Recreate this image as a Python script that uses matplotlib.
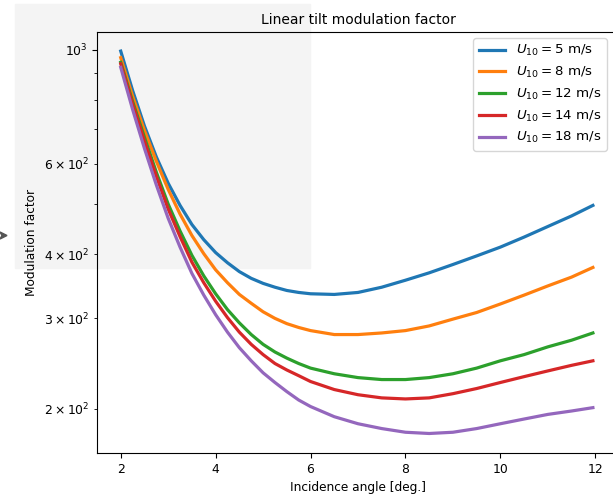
import matplotlib
matplotlib.use("Agg")
import matplotlib.pyplot as plt
from matplotlib.patches import Rectangle, Polygon

# incidence angle [deg.]
theta = [2.0, 2.25, 2.5, 2.75, 3.0, 3.25, 3.5, 3.75, 4.0, 4.25, 4.5, 4.75,
         5.0, 5.25, 5.5, 5.75, 6.0, 6.5, 7.0, 7.5, 8.0, 8.5, 9.0, 9.5,
         10.0, 10.5, 11.0, 11.5, 11.95]

# modulation factor for each wind speed
mod_5 = [995, 834, 711, 619, 550, 498, 457, 427, 403, 385, 370, 359,
         351, 345, 340, 337, 335, 334, 337, 345, 356, 368, 382, 397,
         413, 432, 453, 475, 498]
mod_8 = [966, 813, 697, 607, 535, 479, 435, 401, 373, 352, 334, 321,
         309, 300, 293, 288, 284, 279, 279, 281, 284, 290, 299, 308,
         320, 333, 347, 361, 377]
mod_12 = [946, 794, 676, 578, 501, 444, 398, 363, 335, 312, 294, 279,
          267, 258, 251, 245, 240, 234, 230, 228, 228, 230, 234, 240,
          248, 255, 264, 272, 281]
mod_14 = [940, 785, 665, 568, 490, 433, 386, 352, 324, 301, 282, 267,
          255, 245, 238, 232, 226, 218, 213, 210, 209, 210, 214, 219,
          225, 231, 237, 243, 248]
mod_18 = [925, 766, 643, 546, 470, 413, 367, 333, 305, 282, 263, 248,
          235, 225, 216, 208, 202, 193, 187, 183, 180, 179, 180, 183,
          187, 191, 195, 198, 201]

winds = [5, 8, 12, 14, 18]
series = [mod_5, mod_8, mod_12, mod_14, mod_18]

W, H = 613, 495
fig = plt.figure(figsize=(W/100, H/100), dpi=100)

# light grey patch and small arrow left over in the screenshot
fig.patches.append(Rectangle((15/W, 1 - 268/H), (310-15)/W, (268-4)/H,
                             transform=fig.transFigure, color='#f4f4f4', zorder=-1))
fig.patches.append(Polygon([(0/W, 1 - 232/H), (7/W, 1 - 235.5/H), (0/W, 1 - 239/H), (2/W, 1 - 235.5/H)],
                           closed=True, transform=fig.transFigure, color='#555555', zorder=-1))

ax = fig.add_axes([97/W, 1 - 453/H, 522/W, (453-32)/H])
ax.set_facecolor('none')

for u, m in zip(winds, series):
    ax.plot(theta, m, lw=2.3, label=r"$U_{10} = $" + f"{u} m/s")

ax.set_yscale('log')
ax.set_xlim(1.5, 12.5)
ax.set_ylim(164, 1084)
ax.set_xticks([2, 4, 6, 8, 10, 12])

ax.set_title("Linear tilt modulation factor", fontsize=10)
ax.set_xlabel("Incidence angle [deg.]", fontsize=8.7)
ax.set_ylabel("Modulation factor", fontsize=8.7)
ax.tick_params(which='both', labelsize=8.9)

ax.legend(loc='upper right', bbox_to_anchor=(607/W, 1 - 38/H),
          bbox_transform=fig.transFigure, fontsize=9.6, borderaxespad=0)

fig.savefig("out.png", dpi=100)
